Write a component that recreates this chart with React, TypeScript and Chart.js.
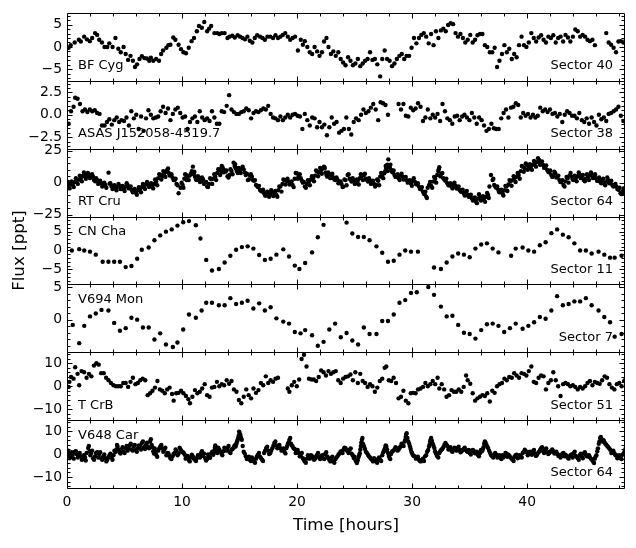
import { useEffect, useRef } from 'react';
import { Chart, registerables } from 'chart.js';

Chart.register(...registerables);

const FONT = '"DejaVu Sans", "Liberation Sans", sans-serif';

// ---------------- data (time [h], flux [ppt]) ----------------
const bfCyg: number[][] = [
[0.14,-0.2],[0.32,0.4],[0.67,1.0],[1.03,1.6],[1.2,1.2],[1.49,2.3],[1.73,1.7],[1.98,1.3],[2.19,2.0],[2.44,3.1],[2.62,2.7],[2.8,1.6],[3.04,1.0],[3.26,0],[3.5,0],[3.68,0.8],[3.96,0],[4.21,2.0],[4.46,-0.4],[4.67,-1.2],[4.92,0],[5.1,-1.6],[5.31,-2.9],[5.52,-2.0],[5.73,-3.1],[5.91,-4.5],[6.09,-3.9],[6.3,-2.7],[6.51,-2.1],[6.73,-2.5],[6.94,-2.6],[7.15,-3.1],[7.29,-2.4],[7.5,-3.1],[7.75,-2.7],[8.0,-3.1],[8.18,-1.6],[8.35,-0.8],[8.64,-0.2],[8.81,0.4],[8.99,0.5],[9.24,2.1],[9.42,1.6],[9.7,0.5],[9.91,-0.5],[10.12,-1.2],[10.34,-1.4],[10.58,-0.2],[10.83,1.3],[11.04,2.0],[11.29,3.5],[11.47,4.7],[11.72,4.3],[11.93,5.6],[12.18,3.5],[12.35,4.1],[12.53,4.7],[12.81,3.1],[13.06,3.1],[13.24,2.9],[13.45,3.1],[13.7,3.1],[13.95,2.0],[14.12,2.3],[14.37,2.5],[14.58,2.1],[14.83,2.6],[15.05,2.3],[15.26,2.0],[15.47,1.7],[15.68,2.3],[15.89,1.4],[16.11,1.0],[16.32,2.0],[16.53,2.6],[16.78,2.3],[16.99,2.0],[17.2,1.6],[17.42,2.3],[17.66,2.3],[17.91,2.0],[18.12,2.6],[18.34,2.0],[18.55,2.3],[18.76,2.7],[18.97,3.1],[19.19,2.3],[19.4,1.6],[19.61,2.0],[19.82,2.3],[20.07,-0.8],[20.32,1.6],[20.5,0.5],[20.67,1.3],[20.89,0],[21.1,-1.2],[21.31,-1.6],[21.52,0],[21.74,-1.0],[21.95,-2.0],[22.16,-1.2],[22.34,1.2],[22.55,2.0],[22.73,0],[22.94,-1.6],[23.15,-1.0],[23.36,-2.0],[23.58,-1.2],[23.79,-2.7],[24.0,-3.5],[24.21,-4.1],[24.43,-2.3],[24.64,-3.1],[24.85,-4.1],[25.06,-3.7],[25.28,-2.7],[25.49,-4.3],[25.7,-3.7],[25.91,-3.1],[26.13,-2.7],[26.34,-1.2],[26.55,-2.9],[26.76,-2.7],[26.97,-3.9],[27.22,-6.6],[27.4,-2.7],[27.61,-0.8],[27.82,-2.7],[28.04,-3.1],[28.25,-4.3],[28.46,-3.7],[28.67,-2.7],[28.89,-2.0],[29.1,-1.6],[29.31,-2.7],[29.52,-2.0],[29.74,-2.0],[29.95,-0.2],[30.16,2.0],[30.37,0.8],[30.59,2.0],[30.8,2.7],[31.01,3.1],[31.22,2.3],[31.44,0.8],[31.65,2.9],[31.86,0.4],[32.07,3.5],[32.28,2.0],[32.5,3.7],[32.71,4.1],[32.92,3.5],[33.13,4.9],[33.35,5.3],[33.56,5.1],[33.77,3.1],[33.98,2.3],[34.2,2.9],[34.41,2.0],[34.62,1.0],[34.83,1.6],[35.05,2.7],[35.26,1.0],[35.47,1.6],[35.68,2.6],[35.9,2.9],[36.11,2.9],[36.32,0.4],[36.53,0],[36.75,-1.2],[36.96,-1.2],[37.17,-0.2],[37.38,-4.5],[37.59,-3.1],[37.81,-1.6],[38.02,0.4],[38.23,-1.2],[38.44,-0.4],[38.66,-2.7],[38.87,-1.6],[39.08,-2.3],[39.29,0.4],[39.51,2.3],[39.72,0.4],[39.93,0],[40.14,1.0],[40.36,3.1],[40.57,2.0],[40.78,1.2],[40.99,2.1],[41.21,2.6],[41.42,1.6],[41.63,1.0],[41.84,2.3],[42.06,2.0],[42.27,2.6],[42.48,1.0],[42.69,2.0],[42.9,2.3],[43.12,1.2],[43.33,2.7],[43.54,2.1],[43.75,1.2],[43.97,2.3],[44.18,3.9],[44.39,3.5],[44.6,2.3],[44.82,2.7],[45.03,2.3],[45.24,1.6],[45.45,1.3],[45.67,1.6],[45.88,0.4],[46.87,3.1],[47.08,1.0],[47.29,0.5],[47.51,-0.2],[47.72,-1.2],[47.93,1.2],[48.14,1.3],[48.36,1.0],[48.57,1.6]
];

const asasJ152058: number[][] = [
[0.14,-1.0],[0.35,0.4],[0.57,0.9],[0.71,1.9],[0.92,1.8],[1.13,1.2],[1.35,0.4],[1.56,0.6],[1.77,0.3],[1.98,0.6],[2.19,0.4],[2.41,0.5],[2.62,0.2],[2.83,0.1],[3.04,-1.2],[3.26,-1.2],[3.47,-0.8],[3.68,-0.5],[3.89,-1.1],[4.11,-0.6],[4.32,-0.3],[4.53,-0.8],[4.74,-0.6],[4.96,-0.7],[5.17,-0.3],[5.38,-1.2],[5.59,0.4],[5.81,-0.4],[6.02,0],[6.23,-1.6],[6.44,-0.2],[6.66,-1.8],[6.87,-0.4],[7.08,0.5],[7.29,0],[7.5,-0.4],[7.72,-0.3],[7.93,-0.2],[8.14,0.4],[8.35,0.9],[8.57,0.2],[8.78,0.7],[8.99,-0.6],[9.2,0.1],[9.42,0.6],[9.63,0.8],[9.84,0.2],[10.05,-0.3],[10.27,-0.2],[10.48,-1.6],[10.69,-0.8],[10.9,-0.4],[11.12,-0.2],[11.33,-0.8],[11.54,0.4],[11.75,-0.3],[11.97,-0.6],[12.18,-0.4],[12.39,-0.7],[12.6,0.4],[12.81,-0.3],[13.03,-1.0],[13.24,-1.0],[13.45,0.4],[13.66,0.3],[13.88,1.0],[14.09,2.2],[14.3,0.6],[14.51,0.3],[14.73,0.1],[14.94,0.1],[15.15,0.3],[15.36,0.4],[15.58,0.7],[15.79,0.5],[16.0,-0.4],[16.21,0.2],[16.43,0.4],[16.64,0.3],[16.85,0.5],[17.06,0.7],[17.28,0.6],[17.49,1.0],[17.7,0.1],[17.91,-0.3],[18.12,-0.4],[18.34,-0.6],[18.55,-0.2],[18.76,-0.6],[18.97,-0.3],[19.19,0],[19.4,-0.3],[19.61,0],[19.82,0.1],[20.04,-0.1],[20.25,-0.2],[20.46,-1.6],[20.67,0.1],[20.89,-0.6],[21.1,-1.2],[21.31,-0.3],[21.52,-0.4],[21.74,-1.4],[21.95,-0.8],[22.16,-1.4],[22.37,-1.1],[22.59,-2.3],[22.8,-1.4],[23.01,-0.3],[23.22,-1.0],[23.43,-0.8],[23.65,-2.0],[23.86,-1.8],[24.07,-1.6],[24.28,-0.3],[24.5,-1.6],[24.71,-2.2],[24.92,-0.8],[25.13,-0.4],[25.35,-0.6],[25.56,0],[25.77,0.6],[25.98,0.2],[26.2,0.4],[26.41,0.8],[26.62,1.2],[26.83,0.6],[27.05,-0.6],[27.26,1.4],[27.47,1.3],[27.68,1.1],[27.9,0],[28.82,1.2],[29.03,0.6],[29.24,1.2],[29.45,-0.1],[29.67,-0.2],[29.88,0.8],[30.09,0.5],[30.3,0.7],[30.51,1.3],[30.73,0.9],[30.94,-0.7],[31.15,-0.3],[31.36,0.6],[31.58,-0.4],[31.79,0],[32.0,-0.3],[32.21,0.1],[32.43,-0.7],[32.64,1.2],[32.85,0.4],[33.06,-0.4],[33.28,-0.6],[33.49,-1.0],[33.7,-0.2],[33.91,-0.1],[34.13,-0.6],[34.34,-0.2],[34.55,0],[34.76,-0.3],[34.98,-0.6],[35.19,0.2],[35.4,-0.3],[35.61,-1.0],[35.82,-0.3],[36.04,-0.6],[36.25,-1.2],[36.46,-1.8],[36.67,-1.6],[36.89,-1.0],[37.1,-1.5],[37.31,-1.6],[37.52,-1.6],[37.74,-0.4],[37.95,0.2],[38.16,0.6],[38.37,-0.3],[38.59,0.8],[38.8,0.9],[39.01,1.3],[39.22,1.1],[39.44,-0.3],[39.65,0.2],[39.86,-0.1],[40.07,0.1],[40.29,-0.3],[40.5,0],[40.71,-0.3],[40.92,-0.1],[41.13,0.8],[41.35,0.4],[41.56,0.6],[41.77,0.3],[41.98,0.6],[42.2,0.1],[42.41,0.2],[42.62,-0.2],[42.83,0.1],[43.05,-0.8],[43.26,0],[43.47,0.4],[43.68,0.2],[43.9,-0.1],[44.11,-0.1],[44.32,-0.4],[44.53,0.2],[44.75,-0.6],[44.96,-0.8],[45.17,-0.4],[45.38,-1.0],[45.6,-0.3],[45.81,-0.8],[46.02,-1.2],[46.23,0],[46.44,-0.5],[46.66,-0.3],[46.87,-0.7],[47.08,0.1],[47.29,0.2],[47.51,0.4],[47.72,0.6],[47.93,0.9],[48.14,-0.1],[48.36,-0.7]
];

const rtCru: number[][] = [
[0.05,-3.5],[0.14,-2.6],[0.32,-1.0],[0.5,-1.8],[0.68,0.5],[0.85,1.6],[1.03,2.5],[1.2,3.4],[1.38,5.2],[1.56,6.8],[1.73,4.9],[1.91,6.0],[2.09,5.5],[2.27,4.7],[2.44,1.0],[2.62,2.0],[2.8,0.3],[2.97,-0.5],[3.15,-2.5],[3.33,-1.8],[3.61,7.8],[3.7,-0.8],[3.86,-2.6],[4.04,-3.5],[4.21,-4.4],[4.39,-3.0],[4.57,-2.6],[4.74,-5.0],[4.92,-4.4],[5.1,-3.0],[5.27,-1.8],[5.45,-4.0],[5.63,-5.7],[5.8,-6.5],[5.98,-7.8],[6.16,-6.0],[6.34,-5.2],[6.51,-3.5],[6.69,-2.6],[6.87,-1.5],[7.04,-1.0],[7.22,-2.0],[7.4,-3.1],[7.57,-1.0],[7.75,0.8],[7.93,3.5],[8.11,6.0],[8.28,5.0],[8.46,7.3],[8.6,8.5],[8.71,9.9],[8.85,7.5],[8.99,6.0],[9.17,4.0],[9.35,2.0],[9.52,-1.0],[9.7,-8.3],[9.87,-4.0],[10.05,-1.8],[10.2,3.0],[10.34,6.0],[10.46,4.0],[10.58,2.0],[10.76,7.0],[10.94,12.5],[11.03,6.5],[11.12,4.7],[11.3,2.0],[11.47,3.4],[11.65,1.0],[11.82,2.6],[12.0,0.0],[12.18,-3.1],[12.35,-1.0],[12.53,2.6],[12.71,3.0],[12.89,4.7],[13.06,7.5],[13.24,10.4],[13.38,9.0],[13.52,12.0],[13.65,10.0],[13.77,8.6],[13.95,5.0],[14.12,6.0],[14.3,9.0],[14.48,15.6],[14.57,13.0],[14.66,11.2],[14.84,7.5],[15.01,9.9],[15.19,11.0],[15.36,10.4],[15.54,6.0],[15.72,2.0],[15.9,5.5],[16.07,4.7],[16.25,1.5],[16.43,-1.8],[16.6,-3.5],[16.78,-5.7],[16.96,-7.0],[17.13,-8.3],[17.31,-10.0],[17.49,-8.3],[17.66,-9.0],[17.84,-7.0],[18.02,-8.0],[18.2,-9.6],[18.37,-6.0],[18.55,-3.1],[18.73,-1.0],[18.9,2.0],[19.08,1.5],[19.26,0.8],[19.43,-0.5],[19.61,-1.8],[19.79,3.0],[19.97,7.3],[20.14,5.0],[20.32,3.4],[20.5,0.0],[20.67,-3.1],[20.85,-1.0],[21.03,0.8],[21.2,2.5],[21.38,3.4],[21.56,5.5],[21.74,8.6],[21.91,8.0],[22.09,9.9],[22.22,11.0],[22.34,12.5],[22.48,8.0],[22.62,4.7],[22.8,6.5],[22.97,6.0],[23.15,4.0],[23.33,2.0],[23.5,2.5],[23.68,0.8],[23.86,-1.0],[24.04,-3.1],[24.21,2.0],[24.39,6.0],[24.57,3.0],[24.74,0.8],[24.92,1.5],[25.1,-0.5],[25.27,1.5],[25.45,3.4],[25.63,5.0],[25.81,6.0],[25.98,3.0],[26.16,0.8],[26.34,1.5],[26.51,0.0],[26.69,-1.0],[26.87,-1.8],[27.05,1.5],[27.22,4.7],[27.4,6.0],[27.58,7.3],[27.66,9.0],[27.75,11.2],[27.84,14.0],[27.93,18.2],[28.05,12.0],[28.18,9.9],[28.32,8.0],[28.46,6.0],[28.64,5.0],[28.82,3.4],[29.0,5.5],[29.17,4.7],[29.35,3.0],[29.52,2.0],[29.7,1.0],[29.88,-0.5],[30.05,1.5],[30.23,0.8],[30.41,-1.5],[30.59,-3.1],[30.76,-5.0],[30.94,-7.0],[31.08,-9.0],[31.22,-10.9],[31.35,-4.0],[31.47,-1.8],[31.65,-2.5],[31.82,0.8],[32.0,3.0],[32.18,6.0],[32.27,9.0],[32.36,12.0],[32.53,7.0],[32.71,3.4],[32.89,1.5],[33.06,-0.5],[33.24,-2.0],[33.42,-3.1],[33.59,-1.5],[33.77,-2.6],[33.95,-4.5],[34.13,-5.7],[34.3,-7.0],[34.48,-8.3],[34.66,-7.5],[34.83,-9.6],[35.01,-11.0],[35.19,-12.2],[35.36,-13.0],[35.54,-14.8],[35.72,-12.5],[35.9,-10.9],[36.07,-13.5],[36.25,-12.2],[36.43,-11.0],[36.6,-9.6],[36.72,-3.0],[36.85,6.0],[36.99,2.0],[37.13,-1.8],[37.31,-4.0],[37.49,-5.7],[37.66,-7.0],[37.84,-8.3],[38.02,-6.0],[38.2,-3.1],[38.37,-1.5],[38.55,0.8],[38.73,2.0],[38.9,3.4],[39.08,4.5],[39.26,6.0],[39.44,9.0],[39.61,12.5],[39.79,11.0],[39.97,13.8],[40.14,11.5],[40.32,12.5],[40.5,14.0],[40.67,15.1],[40.85,16.0],[41.03,17.7],[41.2,15.0],[41.38,13.8],[41.56,12.0],[41.74,9.9],[41.91,8.0],[42.09,6.0],[42.27,5.0],[42.44,7.3],[42.62,4.5],[42.8,2.0],[42.97,0.5],[43.15,-1.8],[43.33,1.0],[43.51,3.4],[43.68,5.5],[43.86,4.7],[44.04,2.0],[44.21,3.4],[44.39,5.0],[44.57,6.0],[44.75,4.5],[44.92,2.0],[45.1,3.0],[45.28,4.7],[45.45,5.5],[45.63,6.0],[45.81,4.5],[45.98,3.4],[46.16,1.5],[46.34,0.8],[46.51,2.0],[46.69,-0.5],[46.87,1.0],[47.05,2.0],[47.22,0.5],[47.4,-1.8],[47.58,-2.5],[47.76,-3.1],[47.93,-5.5],[48.11,-8.3],[48.28,-7.0],[48.46,-5.7]
];

// upper / lower edge points of the RT Cru band
const rtCruBand: number[][] = [
[0.1,0.5],[0.23,-4.5],[0.41,1.0],[0.59,-3.5],[0.77,3.5],[0.94,-1.0],[1.11,5.5],[1.29,1.0],[1.47,8.0],[1.64,3.0],[1.82,7.5],[2.0,3.5],[2.18,6.5],[2.35,2.0],[2.53,3.5],[2.71,-1.0],[2.88,1.5],[3.06,-3.0],[3.24,0.0],[3.42,-4.0],[3.77,-0.5],[3.95,-5.0],[4.12,-2.0],[4.3,-6.0],[4.48,-1.0],[4.65,-5.0],[4.83,-2.5],[5.01,-6.5],[5.19,-0.5],[5.36,-4.5],[5.54,-3.0],[5.72,-7.5],[5.89,-5.0],[6.07,-9.5],[6.25,-3.5],[6.43,-7.5],[6.6,-1.0],[6.78,-5.0],[6.96,0.5],[7.13,-3.5],[7.31,-0.5],[7.49,-4.5],[7.66,2.5],[7.84,-2.0],[8.02,6.5],[8.2,2.5],[8.37,9.0],[8.55,4.5],[8.78,11.0],[8.92,5.5],[9.08,6.5],[9.26,2.0],[9.44,3.0],[9.61,-2.0],[9.96,0.0],[10.12,-4.0],[10.27,6.5],[10.4,2.0],[10.67,5.5],[10.85,9.0],[11.07,8.5],[11.21,2.5],[11.38,5.0],[11.56,0.5],[11.73,4.0],[11.91,-1.0],[12.09,0.5],[12.26,-3.5],[12.44,3.5],[12.62,-1.0],[12.8,6.5],[12.97,2.0],[13.15,10.5],[13.31,6.0],[13.45,13.0],[13.58,8.0],[13.86,9.5],[14.04,4.0],[14.21,10.5],[14.39,6.5],[14.62,14.5],[14.75,9.0],[14.92,11.5],[15.1,7.5],[15.27,12.5],[15.45,8.0],[15.63,7.0],[15.81,2.5],[15.98,6.5],[16.16,2.0],[16.34,2.0],[16.51,-2.5],[16.69,-2.5],[16.87,-6.5],[17.04,-5.5],[17.22,-10.0],[17.4,-7.0],[17.57,-11.0],[17.75,-6.0],[17.93,-10.5],[18.11,-6.5],[18.28,-11.0],[18.46,-3.0],[18.64,-7.0],[18.81,2.5],[18.99,-1.5],[19.17,3.0],[19.34,-1.5],[19.52,1.0],[19.7,-3.5],[19.88,7.5],[20.05,3.0],[20.23,6.5],[20.41,1.5],[20.58,0.5],[20.76,-4.0],[20.94,2.0],[21.11,-2.0],[21.29,5.0],[21.47,1.0],[21.65,9.5],[21.82,5.0],[22.0,11.5],[22.15,7.0],[22.41,11.5],[22.55,6.0],[22.71,8.0],[22.89,3.5],[23.06,7.0],[23.24,2.5],[23.42,4.0],[23.59,-0.5],[23.77,1.0],[23.95,-3.5],[24.12,2.5],[24.3,-2.0],[24.48,6.5],[24.66,2.0],[24.83,3.5],[25.01,-1.0],[25.19,2.5],[25.36,-1.5],[25.54,6.5],[25.72,2.0],[25.89,7.0],[26.07,2.0],[26.25,3.5],[26.42,-1.0],[26.6,1.5],[26.78,-3.0],[26.96,2.5],[27.13,-2.0],[27.31,7.5],[27.49,3.5],[27.7,13.0],[27.88,9.0],[28.11,14.0],[28.25,8.5],[28.39,9.5],[28.55,4.5],[28.73,6.5],[28.91,2.0],[29.08,7.0],[29.26,2.5],[29.44,4.5],[29.61,0.0],[29.79,2.0],[29.97,-2.5],[30.14,3.5],[30.32,-1.0],[30.5,-0.5],[30.68,-5.0],[30.85,-3.5],[31.01,-8.5],[31.15,-7.0],[31.28,-12.0],[31.56,0.5],[31.74,-4.0],[31.91,4.5],[32.09,0.0],[32.31,10.5],[32.44,5.0],[32.62,7.5],[32.8,2.5],[32.97,3.0],[33.15,-2.0],[33.33,-0.5],[33.5,-4.5],[33.68,0.0],[33.86,-4.5],[34.04,-3.0],[34.21,-7.0],[34.39,-5.5],[34.57,-10.0],[34.75,-6.5],[34.92,-11.0],[35.1,-9.5],[35.28,-14.0],[35.45,-11.5],[35.63,-16.0],[35.81,-9.0],[35.98,-14.0],[36.16,-10.5],[36.34,-15.0],[36.52,-8.0],[36.66,-12.0],[37.06,3.0],[37.22,-3.0],[37.4,-3.0],[37.57,-7.5],[37.75,-5.5],[37.93,-10.0],[38.11,-2.5],[38.28,-6.5],[38.46,2.0],[38.64,-2.5],[38.82,5.0],[38.99,0.5],[39.17,7.5],[39.35,3.0],[39.53,13.0],[39.7,8.5],[39.88,15.0],[40.05,10.0],[40.23,14.5],[40.41,10.0],[40.59,17.0],[40.76,12.5],[40.94,19.0],[41.12,14.0],[41.29,16.5],[41.47,11.5],[41.65,13.5],[41.83,8.5],[42.0,9.5],[42.18,4.5],[42.36,8.5],[42.53,4.0],[42.71,5.5],[42.88,0.5],[43.06,2.0],[43.24,-3.0],[43.42,4.5],[43.59,0.0],[43.77,7.5],[43.95,2.5],[44.13,5.5],[44.3,1.0],[44.48,8.0],[44.66,3.5],[44.84,6.0],[45.01,1.0],[45.19,6.5],[45.37,2.0],[45.54,8.0],[45.72,3.5],[45.9,6.5],[46.07,1.5],[46.25,4.0],[46.43,-0.5],[46.6,3.0],[46.78,-2.0],[46.96,4.0],[47.13,-0.5],[47.31,1.5],[47.49,-3.0],[47.67,-1.0],[47.84,-5.0],[48.02,-4.0],[48.2,-9.0],[48.37,-4.5],[48.5,-8.0]
];

const cnCha: number[][] = [
[0.42,0],[1.06,0.36],[1.5,0],[2.0,-0.3],[2.5,-1.1],[3.1,-3],[3.6,-3],[4.1,-3],[4.6,-3],[5.1,-4.4],[5.6,-4.1],[6.1,-2.2],[6.5,0.2],[7.1,0.8],[7.6,2.7],[8.1,4],[8.6,5],[9.1,5.6],[9.6,6.6],[10.1,7.5],[10.6,7.8],[11.2,6.7],[11.6,3.2],[12.1,-2.5],[12.6,-5.3],[13.2,-4.9],[13.7,-3.2],[14.2,-1.4],[14.7,0.2],[15.2,0.9],[15.7,1.1],[16.2,0.5],[16.7,-1.2],[17.2,-2.5],[17.7,-2.2],[18.2,-1.1],[18.8,0.3],[19.3,-1.6],[19.8,-4],[20.2,-4.9],[20.7,-3.3],[21.3,-0.5],[21.8,3.5],[22.3,6.8],[24.3,7.4],[24.8,4.5],[25.3,3.6],[25.8,3.6],[26.3,2.7],[26.9,1.1],[27.4,-0.6],[27.9,-3],[28.4,-2.7],[28.9,-1.1],[29.4,0],[29.9,-0.3],[30.5,-0.3],[31.9,-4.5],[32.5,-4.9],[33.0,-3.2],[33.5,-1.6],[34.0,-0.8],[34.5,-1.1],[35.0,-1.8],[35.5,0.5],[36.0,1.6],[36.5,1.9],[37.0,0.5],[37.5,-0.5],[38.6,-1.4],[39.0,0.5],[39.6,0.8],[40.1,0],[40.6,-0.3],[41.1,1.4],[41.6,2.2],[42.1,4.6],[42.6,5.6],[43.1,4.2],[43.6,3.5],[44.1,1.9],[44.6,0],[45.1,0],[45.6,-0.8],[46.2,-0.3],[46.7,-1.1],[47.2,-1.9],[47.6,-1.9],[48.2,-1.4]
];

const v694Mon: number[][] = [
[0.5,-0.8],[1.06,-3.6],[1.5,-0.95],[2.0,0.5],[2.5,0.95],[3.0,1.5],[3.6,1.4],[4.1,-0.5],[4.6,-1.7],[5.1,-1.3],[5.6,0.3],[6.1,0],[6.6,-1.2],[7.1,-1.2],[7.6,-3.05],[8.1,-2.1],[8.6,-3.8],[9.2,-4.2],[9.6,-3.5],[10.1,-1.5],[10.6,0.8],[11.2,0.3],[11.7,1.4],[12.1,2.6],[12.6,2.6],[13.2,2.2],[13.7,2.2],[14.2,3.3],[14.7,2.4],[15.2,2.6],[15.7,2.9],[16.2,1.7],[16.7,2.5],[17.2,1.4],[17.7,1.9],[18.2,0.2],[18.8,-0.3],[19.3,-0.6],[19.8,-1.9],[20.3,-2.1],[20.7,-1.6],[21.3,-2.4],[21.8,-4],[22.3,-3.4],[22.8,-1.5],[23.3,-0.6],[23.8,-2.7],[24.3,-2.05],[24.8,-3.2],[25.3,-3.8],[25.8,-1.2],[26.3,-2.2],[26.9,-2.2],[27.4,-0.2],[27.9,-0.2],[28.4,0.8],[28.9,2.6],[29.4,3.0],[29.9,4.1],[30.4,4.2],[31.4,5.0],[31.9,3.8],[32.5,2.0],[33.0,0.5],[33.5,0.6],[34.0,-0.8],[34.5,-2.0],[35.0,-2.2],[35.5,-2.9],[36.0,-1.6],[36.5,-0.7],[37.0,-0.6],[37.5,-0.95],[38.0,-1.9],[38.5,-1.3],[39.0,-0.6],[39.6,-1.4],[40.1,-0.95],[40.6,-0.4],[41.1,0.4],[41.6,0.15],[42.1,1.4],[42.6,3.6],[43.1,2.2],[43.6,2.4],[44.1,2.8],[44.6,2.8],[45.1,3.3],[45.6,2.2],[46.2,1.4],[46.7,0.4],[47.2,-0.4],[47.6,-2.6],[48.2,-2.2],[48.6,-3.7]
];

const tCrB: number[][] = [
[0.14,-0.3],[0.21,1.9],[0.35,4],[0.57,3.3],[0.71,8.3],[0.92,5.4],[1.06,0.4],[1.27,6.6],[1.49,6.1],[1.7,3.7],[1.91,5.4],[2.12,4.3],[2.34,9],[2.55,10],[2.76,9.4],[2.97,5.7],[3.19,5.7],[3.4,3.7],[3.61,2.6],[3.82,1.4],[4.04,0.4],[4.25,0],[4.46,0],[4.67,0],[4.89,1.4],[5.1,1.4],[5.31,-0.3],[5.52,1.9],[5.73,3.7],[5.95,0.9],[6.16,1.4],[6.37,2.6],[6.58,3.3],[6.8,2.6],[7.01,-3.9],[7.22,-3.1],[7.43,-2],[7.65,-0.6],[7.86,2.3],[8.07,-1.4],[8.28,-2],[8.5,-3.1],[8.71,-1.4],[8.92,-0.6],[9.13,-3.4],[9.27,-6.3],[9.49,-3.1],[9.7,-2.9],[9.91,-2],[10.12,-3.1],[10.34,-4.3],[10.55,-5.7],[10.69,-7.4],[10.9,-4.6],[11.12,-1.7],[11.33,-3.1],[11.54,-2.4],[11.75,-1],[11.97,0.9],[12.18,-3.9],[12.39,-4.6],[12.6,-0.6],[12.81,-0.3],[13.03,1.9],[13.24,0],[13.45,0.9],[13.66,0.4],[13.88,2.6],[14.09,1.1],[14.3,2.3],[14.51,-1.4],[14.73,-2.4],[14.94,-6],[15.15,-7.4],[15.36,-4.6],[15.58,-1.4],[15.79,-3.9],[16.0,-5.3],[16.21,-1],[16.43,-2.9],[16.64,-1.7],[16.85,1.4],[17.06,0.4],[17.28,4.3],[17.49,1.4],[17.7,2.6],[17.91,1.9],[18.12,3.3],[18.34,3.7],[19.19,-1],[19.33,-2.4],[19.54,0.4],[19.75,1.9],[19.97,0],[20.18,2.9],[20.39,11.9],[20.6,13.7],[20.82,8.6],[21.03,3.3],[21.24,2.9],[21.45,2.9],[21.66,2.3],[21.88,4],[22.09,6.9],[22.3,6.1],[22.51,4.7],[22.73,6.6],[22.94,5.4],[23.15,6.1],[23.36,6.6],[23.58,2.6],[23.79,1.4],[24.0,3.3],[24.21,4],[24.43,4.3],[24.64,5.1],[24.85,2.6],[25.06,6.1],[25.28,1.4],[25.49,5.4],[25.7,2.3],[25.91,1.4],[26.13,-0.3],[26.34,0.9],[26.55,0],[26.76,-2.4],[26.97,-0.6],[27.19,2.3],[27.4,3.3],[27.61,8],[27.75,8.6],[27.97,2.6],[28.18,2.3],[28.39,3.7],[28.6,1.4],[28.82,-5.3],[29.03,-4.6],[29.24,-2],[29.45,-6.3],[29.67,-7.4],[29.88,-3.1],[30.09,-2.9],[30.3,-3.1],[30.51,-1.4],[30.73,-1],[30.94,-0.3],[31.15,1.4],[31.36,0],[31.58,0.9],[31.79,2.3],[32.0,0.9],[32.21,3.7],[32.36,-1],[32.57,0.9],[32.78,-1.4],[32.99,-4.6],[33.21,-3.9],[33.42,-1.7],[33.63,-2.4],[33.84,-2.4],[34.05,-1.4],[34.27,-2.4],[34.48,-0.3],[34.69,4.7],[34.83,2.6],[35.05,1.1],[35.26,-3.1],[35.47,-6.3],[35.68,-5.3],[35.9,-4.6],[36.11,-3.9],[36.32,-4.3],[36.53,-3.1],[36.75,-6.7],[36.96,-2],[37.17,-2.9],[37.38,0],[37.59,0.9],[37.81,1.4],[38.02,3.3],[38.23,2.6],[38.44,4],[38.66,3.7],[38.87,5.7],[39.08,4.7],[39.29,3.7],[39.51,5.7],[39.72,5.4],[39.93,4.7],[40.14,6.6],[40.36,8.6],[40.57,1.9],[40.78,1.4],[40.99,3.7],[41.21,4.7],[41.42,4.3],[41.63,-1.4],[41.84,1.4],[42.06,2.6],[42.27,6.1],[42.48,2.6],[42.69,0],[42.9,-4.3],[43.12,0.9],[43.33,1.4],[43.54,0.9],[43.75,0],[43.97,0.4],[44.18,-0.3],[44.39,-1.4],[44.6,-0.3],[44.82,-1],[45.03,0],[45.24,1.4],[45.45,2.3],[45.67,0.4],[45.88,1.9],[46.09,1.4],[46.3,1.1],[46.51,2.6],[46.73,4.3],[46.94,3.7],[47.15,0.9],[47.36,-0.6],[47.58,-1.4],[47.79,0.9],[48.0,1.4],[48.21,0],[48.43,2.3],[48.57,3.3]
];

const v648Car: number[][] = [
[0.05,-0.5],[0.14,0.4],[0.32,-1.2],[0.5,-0.3],[0.68,1.0],[0.85,0],[1.03,-0.8],[1.2,-1],[1.38,-2.2],[1.56,-1.4],[1.7,0.5],[1.84,2.6],[1.96,1.2],[2.09,0.4],[2.27,-1.8],[2.44,-1],[2.62,0.8],[2.8,0],[2.97,-1.8],[3.15,-1],[3.33,-1.8],[3.5,-2.5],[3.68,-0.6],[3.86,-1.4],[4.04,-0.5],[4.21,0.9],[4.3,2.0],[4.39,3.3],[4.57,0.8],[4.74,1.9],[4.92,1.0],[5.1,2.6],[5.27,1.5],[5.45,3.8],[5.63,2.0],[5.81,3.3],[5.98,1.8],[6.16,2.6],[6.34,3.5],[6.51,4.8],[6.69,3.0],[6.87,4.1],[7.04,3.2],[7.22,5.5],[7.36,4.0],[7.5,1.2],[7.62,2.5],[7.75,-0.3],[7.93,1.5],[8.11,3.3],[8.28,2.5],[8.46,1.9],[8.64,-0.5],[8.81,0.4],[8.99,-1.8],[9.17,-1],[9.35,0.5],[9.52,1.2],[9.7,0.3],[9.88,1.9],[10.05,0.8],[10.23,-0.3],[10.4,-1.5],[10.58,-2.5],[10.76,-1.5],[10.94,-1],[11.12,-2.5],[11.29,-1.7],[11.47,-0.8],[11.65,0.4],[11.82,-0.8],[12.0,-1.7],[12.18,-2.2],[12.35,-1],[12.53,0.3],[12.71,-0.3],[12.8,1.5],[12.89,3.8],[13.06,0.5],[13.24,1.9],[13.42,0.2],[13.59,1.2],[13.77,2.0],[13.95,2.6],[14.12,1.0],[14.3,1.9],[14.48,2.8],[14.66,3.3],[14.75,5.0],[14.83,6.2],[14.92,8.0],[15.01,9.1],[15.1,7.5],[15.19,6.2],[15.36,1.0],[15.54,-1],[15.72,-1.8],[15.89,-2.5],[16.07,-1.5],[16.25,-3.2],[16.43,-2.0],[16.6,-0.3],[16.78,-1.2],[16.96,-2.5],[17.13,0.5],[17.31,2.6],[17.49,1.5],[17.66,0.4],[17.84,2.5],[18.02,4.8],[18.2,3.8],[18.37,3.3],[18.55,2.6],[18.73,1.9],[18.9,1.0],[19.08,2.6],[19.2,4.5],[19.33,6.2],[19.47,4.5],[19.61,3.3],[19.79,2.2],[19.97,1.2],[20.14,0.5],[20.32,-0.3],[20.5,-1.8],[20.67,-3.2],[20.85,-2.0],[21.03,-1],[21.2,-0.5],[21.38,-1.4],[21.56,-2.0],[21.74,-0.3],[21.91,-1.5],[22.09,-1],[22.27,-1.8],[22.44,0],[22.62,-1.0],[22.8,-2.5],[22.97,-1.8],[23.15,-3.2],[23.33,-2.2],[23.51,-1],[23.68,0.2],[23.86,1.2],[24.04,2.0],[24.21,2.6],[24.39,1.2],[24.57,1.9],[24.74,0.2],[24.92,-1.7],[25.06,-2.5],[25.2,-3.9],[25.33,-1.5],[25.45,0.4],[25.54,3.5],[25.63,6.2],[25.72,4.5],[25.81,3.3],[25.98,1.0],[26.16,-0.3],[26.34,-1.5],[26.51,-2.5],[26.69,-1.8],[26.87,-3.2],[27.05,-2.0],[27.22,-2.5],[27.4,-0.5],[27.58,1.9],[27.66,2.8],[27.75,3.3],[27.9,0.5],[28.04,-1.7],[28.16,0.0],[28.28,1.2],[28.46,2.0],[28.64,2.6],[28.82,2.0],[28.99,3.3],[29.17,4.0],[29.35,5.5],[29.44,7.5],[29.52,9.1],[29.66,5.5],[29.81,3.3],[29.93,1.0],[30.05,-0.3],[30.23,-1.0],[30.41,-1.7],[30.59,-2.5],[30.76,-3.2],[30.94,-2.0],[31.12,-1],[31.3,1.0],[31.47,3.3],[31.56,5.5],[31.65,7],[31.79,4.5],[31.93,2.6],[32.05,0.5],[32.18,-1],[32.36,0.5],[32.53,1.9],[32.71,3.0],[32.89,4.8],[33.06,3.5],[33.24,2.6],[33.42,1.5],[33.59,1.9],[33.77,2.5],[33.95,2.6],[34.13,1.8],[34.3,1.2],[34.48,2.2],[34.66,1.9],[34.83,1.0],[35.01,0.4],[35.19,1.5],[35.37,1.2],[35.54,0.3],[35.72,-0.3],[35.9,0.5],[36.07,1.2],[36.2,3.0],[36.32,5.5],[36.46,4.0],[36.6,2.6],[36.78,0.5],[36.96,-1],[37.13,-0.2],[37.31,-0.3],[37.49,-1.0],[37.67,-1.7],[37.84,-0.5],[38.02,-1],[38.2,0.2],[38.37,-0.3],[38.55,-1.5],[38.73,-2.5],[38.9,-1.2],[39.08,-0.3],[39.26,-1.5],[39.44,-1],[39.61,0.5],[39.79,1.9],[39.97,0.8],[40.14,0],[40.32,0.5],[40.5,1.2],[40.67,0.2],[40.85,-0.3],[41.03,1.0],[41.21,2.6],[41.38,1.2],[41.56,1.9],[41.74,1.0],[41.91,0.4],[42.09,1.5],[42.27,1.2],[42.44,0.5],[42.62,0],[42.8,-0.5],[42.97,-1],[43.15,0.5],[43.33,-0.3],[43.51,-1.5],[43.68,-1],[43.86,-0.2],[44.04,0.4],[44.21,-0.8],[44.39,-1.7],[44.57,-0.5],[44.75,-1],[44.92,0.3],[45.1,-0.3],[45.28,-1.0],[45.45,-1.4],[45.63,-2.5],[45.81,-3.9],[45.95,-1.0],[46.09,1.2],[46.22,4.5],[46.34,7],[46.46,6.5],[46.59,6.2],[46.73,5.0],[46.87,4.1],[47.05,3.0],[47.22,1.9],[47.4,1.0],[47.58,0.4],[47.76,-0.5],[47.93,-1],[48.11,-1.8],[48.28,-0.3],[48.46,1.0],[48.57,2.6]
];

// upper / lower edge points of the V648 Car band
const v648CarBand: number[][] = [
[0.1,1.5],[0.23,-1.8],[0.41,0.8],[0.59,-2.0],[0.77,1.2],[0.94,-1.5],[1.11,0.5],[1.29,-2.5],[1.47,-0.5],[1.63,-2.8],[1.9,3.5],[2.03,-0.5],[2.18,1.5],[2.35,-2.5],[2.53,0.5],[2.71,-1.5],[2.88,0.8],[3.06,-2.5],[3.24,-0.2],[3.42,-3.2],[3.59,-1.5],[3.77,0.2],[3.95,-2.5],[4.12,1.5],[4.35,4.0],[4.48,2.0],[4.65,0.2],[4.83,3.0],[5.01,0.5],[5.19,3.5],[5.36,2.5],[5.54,4.5],[5.72,1.5],[5.89,4.0],[6.07,1.0],[6.25,3.8],[6.43,2.0],[6.6,5.5],[6.78,2.2],[6.96,5.0],[7.13,2.5],[7.29,6.5],[7.43,3.0],[7.56,0.2],[7.69,1.0],[7.84,-1.2],[8.02,2.5],[8.2,4.0],[8.37,1.0],[8.55,2.8],[8.72,0.5],[8.9,-0.8],[9.08,-2.2],[9.26,0.0],[9.44,2.0],[9.61,-0.5],[9.79,2.8],[9.96,1.2],[10.14,0.6],[10.31,-2.0],[10.49,-0.8],[10.67,-3.2],[10.85,-0.3],[11.03,-2.0],[11.21,-3.0],[11.38,-0.5],[11.56,-1.5],[11.73,1.2],[11.91,0.2],[12.09,-2.8],[12.26,-0.2],[12.44,-1.6],[12.62,1.0],[12.75,0.5],[12.85,2.8],[12.97,1.5],[13.15,2.8],[13.33,1.0],[13.5,-0.5],[13.68,2.8],[13.86,1.5],[14.04,3.5],[14.21,0.5],[14.39,2.2],[14.57,3.8],[14.7,4.2],[14.79,5.5],[14.88,7.0],[14.96,9.8],[15.06,8.5],[15.14,6.8],[15.27,3.5],[15.45,0.2],[15.63,-2.2],[15.81,-1.2],[15.98,-3.0],[16.16,-2.2],[16.34,-3.8],[16.51,-1.0],[16.69,0.5],[16.87,-1.8],[17.04,-3.0],[17.22,1.5],[17.4,3.2],[17.57,0.0],[17.75,1.5],[17.93,3.5],[18.11,5.5],[18.28,2.5],[18.46,4.0],[18.64,1.5],[18.81,2.5],[18.99,0.3],[19.14,3.5],[19.27,5.2],[19.4,7.0],[19.54,3.8],[19.7,2.5],[19.88,0.5],[20.05,1.8],[20.23,-1.0],[20.41,0.5],[20.58,-2.5],[20.76,-3.8],[20.94,-0.5],[21.11,-2.0],[21.29,-0.8],[21.47,-2.5],[21.65,-1.0],[21.82,0.5],[22.0,-2.2],[22.18,-0.5],[22.36,-2.2],[22.53,0.8],[22.71,-1.8],[22.89,-3.2],[23.06,-1.2],[23.24,-3.8],[23.42,-1.5],[23.6,-0.2],[23.77,1.0],[23.95,0.5],[24.12,2.8],[24.3,1.8],[24.48,0.5],[24.66,2.5],[24.83,-0.5],[24.99,-1.2],[25.13,-3.2],[25.27,-2.8],[25.39,-0.5],[25.5,2.0],[25.58,5.0],[25.68,7.0],[25.76,4.0],[25.9,2.2],[26.07,0.5],[26.25,-1.0],[26.42,-2.0],[26.6,-3.2],[26.78,-2.5],[26.96,-3.8],[27.13,-1.5],[27.31,-3.0],[27.49,0.8],[27.62,1.5],[27.7,3.8],[27.82,2.0],[27.97,-0.8],[28.1,-2.2],[28.22,0.8],[28.37,1.5],[28.55,3.0],[28.73,1.5],[28.91,2.8],[29.08,4.5],[29.26,3.5],[29.4,6.2],[29.48,8.5],[29.59,7.0],[29.74,4.5],[29.87,2.2],[29.99,0.5],[30.14,-0.8],[30.32,-2.0],[30.5,-1.2],[30.68,-3.0],[30.85,-2.5],[31.03,-3.0],[31.21,-0.5],[31.39,1.8],[31.52,4.2],[31.6,6.2],[31.72,5.8],[31.86,3.5],[31.99,1.2],[32.12,-0.3],[32.27,-1.5],[32.44,1.2],[32.62,2.2],[32.8,4.0],[32.97,4.2],[33.15,2.0],[33.33,3.0],[33.5,1.0],[33.68,2.8],[33.86,1.5],[34.04,3.2],[34.21,0.8],[34.39,1.8],[34.57,2.8],[34.75,1.2],[34.92,1.8],[35.1,-0.2],[35.28,1.8],[35.45,0.5],[35.63,1.0],[35.81,-1.0],[35.98,1.8],[36.14,2.0],[36.26,4.5],[36.39,4.8],[36.53,3.2],[36.69,1.5],[36.87,-0.5],[37.04,-1.5],[37.22,0.5],[37.4,-1.5],[37.58,-0.5],[37.75,-2.2],[37.93,-1.5],[38.11,0.5],[38.28,-1.2],[38.46,-0.8],[38.64,-2.0],[38.82,-3.0],[38.99,-0.5],[39.17,-1.8],[39.35,-0.5],[39.53,-1.5],[39.7,1.0],[39.88,1.2],[40.05,-0.5],[40.23,1.0],[40.41,-0.3],[40.59,1.8],[40.76,-0.8],[40.94,0.5],[41.12,1.8],[41.29,3.0],[41.47,0.5],[41.65,2.5],[41.83,0.0],[42.0,1.0],[42.18,2.0],[42.36,0.2],[42.53,1.0],[42.71,-0.8],[42.89,-1.5],[43.06,0.2],[43.24,-1.0],[43.42,-0.8],[43.6,-2.0],[43.77,-0.5],[43.95,-1.5],[44.13,1.0],[44.3,-1.2],[44.48,-2.5],[44.66,0.2],[44.84,-1.8],[45.01,0.8],[45.19,-1.0],[45.37,-0.5],[45.54,-2.0],[45.72,-3.2],[45.88,-2.0],[46.02,-0.5],[46.15,2.5],[46.28,5.5],[46.4,7.5],[46.53,5.5],[46.66,5.8],[46.8,4.5],[46.96,3.5],[47.13,2.5],[47.31,0.5],[47.49,1.5],[47.67,-0.5],[47.84,-1.8],[48.02,-0.5],[48.2,-2.2],[48.37,0.2],[48.52,1.8]
];

// ---------------- axes ----------------
const X_MIN = 0;
const X_MAX = 48.5;
const X_MAJOR = [0, 10, 20, 30, 40];
const X_MINOR_STEP = 2;

const starNames = ['BF Cyg', 'ASAS J152058-4519.7', 'RT Cru', 'CN Cha', 'V694 Mon', 'T CrB', 'V648 Car'];
const sectorLabels = ['Sector 40', 'Sector 38', 'Sector 64', 'Sector 11', 'Sector 7', 'Sector 51', 'Sector 64'];
const seriesList = [bfCyg, asasJ152058, rtCru.concat(rtCruBand), cnCha, v694Mon, tCrB, v648Car.concat(v648CarBand)];
const yLimits = [[-7.6, 7.6], [-3.8, 3.8], [-26.5, 26.5], [-9, 9], [-5, 5.4], [-14.8, 14.8], [-14.8, 14.8]];
const yMajorTicks = [[-5, 0, 5], [-2.5, 0, 2.5], [-25, 0, 25], [-5, 0, 5], [0, 5], [-10, 0, 10], [-10, 0, 10]];
const yMinorSteps = [1, 0.5, 5, 1, 1, 2, 2];
const yDecimals = [0, 1, 0, 0, 0, 0, 0];
const nameAtTop = [false, false, false, true, true, false, true];

const PANEL_IDS = starNames.map((_, i) => 'y' + i);

const fmt = (v: number, d: number) => {
  const s = Math.abs(v).toFixed(d);
  return v < 0 ? '\u2212' + s : s;
};

const framePlugin = {
  id: 'frames',
  afterDatasetsDraw(chart: any) {
    const { ctx, chartArea } = chart;
    const xs = chart.scales.x;
    const L = Math.round(chartArea.left);
    const R = Math.round(chartArea.right);
    ctx.save();
    ctx.strokeStyle = '#000';
    ctx.fillStyle = '#000';
    ctx.lineWidth = 1;
    const line = (x1: number, y1: number, x2: number, y2: number) => {
      ctx.beginPath();
      ctx.moveTo(x1, y1);
      ctx.lineTo(x2, y2);
      ctx.stroke();
    };
    PANEL_IDS.forEach((id, i) => {
      const s = chart.scales[id];
      const T = Math.round(s.top);
      const B = Math.round(s.bottom);
      line(L + 0.5, T + 0.5, R - 0.5, T + 0.5);
      line(L + 0.5, B + 0.5, R - 0.5, B + 0.5);
      line(L + 0.5, T + 0.5, L + 0.5, B + 0.5);
      line(R - 0.5, T + 0.5, R - 0.5, B + 0.5);
      for (let v = X_MIN; v <= X_MAX + 1e-9; v += X_MINOR_STEP) {
        const major = X_MAJOR.some((m) => Math.abs(m - v) < 1e-9);
        const len = major ? 5 : 3;
        const px = Math.round(xs.getPixelForValue(v)) + 0.5;
        line(px, T + 0.5, px, T + 0.5 + len);
        line(px, B + 0.5, px, B + 0.5 - len);
      }
      const [mn, mx] = yLimits[i];
      const step = yMinorSteps[i];
      const start = Math.ceil(mn / step - 1e-9) * step;
      for (let v = start; v <= mx + 1e-9; v += step) {
        const major = yMajorTicks[i].some((m) => Math.abs(m - v) < 1e-9);
        const len = major ? 5 : 3;
        const py = Math.round(s.getPixelForValue(v)) + 0.5;
        line(L + 0.5, py, L + 0.5 + len, py);
        line(R - 0.5, py, R - 0.5 - len, py);
      }
      ctx.font = '13px ' + FONT;
      ctx.textBaseline = 'middle';
      ctx.textAlign = 'left';
      const nameY = nameAtTop[i] ? s.top + 15 : s.bottom - 15;
      ctx.fillText(starNames[i], L + 11, nameY);
      ctx.textAlign = 'right';
      ctx.fillText(sectorLabels[i], R - 12, s.bottom - 15);
    });
    ctx.restore();
  },
};

export default function App() {
  const ref = useRef<HTMLCanvasElement | null>(null);

  useEffect(() => {
    if (!ref.current) return;
    const n = PANEL_IDS.length;
    const scales: any = {
      x: {
        type: 'linear',
        position: 'bottom',
        min: X_MIN,
        max: X_MAX,
        grid: { display: false, drawTicks: false },
        border: { display: false },
        afterBuildTicks: (s: any) => {
          s.ticks = X_MAJOR.map((v) => ({ value: v }));
        },
        afterFit: (s: any) => {
          s.height = 60;
          s.paddingLeft = 0;
          s.paddingRight = 0;
        },
        ticks: {
          autoSkip: false,
          maxRotation: 0,
          padding: 6,
          color: '#000',
          font: { family: FONT, size: 13.9 },
          callback: (v: any) => fmt(Number(v), 0),
        },
        title: {
          display: true,
          text: 'Time [hours]',
          color: '#000',
          font: { family: FONT, size: 16.7 },
          padding: { top: 0, bottom: 12 },
        },
      },
    };
    PANEL_IDS.forEach((id, i) => {
      scales[id] = {
        type: 'linear',
        position: 'left',
        stack: 'panels',
        stackWeight: 1,
        weight: n - i,
        min: yLimits[i][0],
        max: yLimits[i][1],
        grid: { display: false, drawTicks: false },
        border: { display: false },
        afterBuildTicks: (s: any) => {
          s.ticks = yMajorTicks[i].map((v) => ({ value: v }));
        },
        afterFit: (s: any) => {
          s.width = 67;
          s.paddingTop = 0;
          s.paddingBottom = 0;
        },
        ticks: {
          autoSkip: false,
          padding: 5,
          color: '#000',
          font: { family: FONT, size: 13.9 },
          callback: (v: any) => fmt(Number(v), yDecimals[i]),
        },
        title:
          i === 3
            ? {
                display: true,
                text: 'Flux [ppt]',
                color: '#000',
                font: { family: FONT, size: 16.7 },
                padding: { top: 10, bottom: 0 },
              }
            : { display: false },
      };
    });

    const datasets = seriesList.map((series, i) => ({
      label: starNames[i],
      data: series.map(([t, f]) => ({ x: t, y: f })),
      xAxisID: 'x',
      yAxisID: PANEL_IDS[i],
      pointRadius: 2.2,
      pointBackgroundColor: '#000',
      pointBorderWidth: 0,
      showLine: false,
      clip: 0,
    }));

    const chart = new Chart(ref.current, {
      type: 'scatter',
      data: { datasets },
      options: {
        responsive: false,
        animation: false,
        devicePixelRatio: 1,
        events: [],
        layout: { padding: { top: 13, right: 11, left: 0, bottom: 0 } },
        plugins: { legend: { display: false }, tooltip: { enabled: false } },
        scales,
      } as any,
      plugins: [framePlugin],
    });
    return () => chart.destroy();
  }, []);

  return (
    <div style={{ position: 'absolute', left: 0, top: 0, width: 636, height: 548, background: '#fff' }}>
      <canvas ref={ref} width={636} height={548} style={{ width: 636, height: 548 }} />
    </div>
  );
}
